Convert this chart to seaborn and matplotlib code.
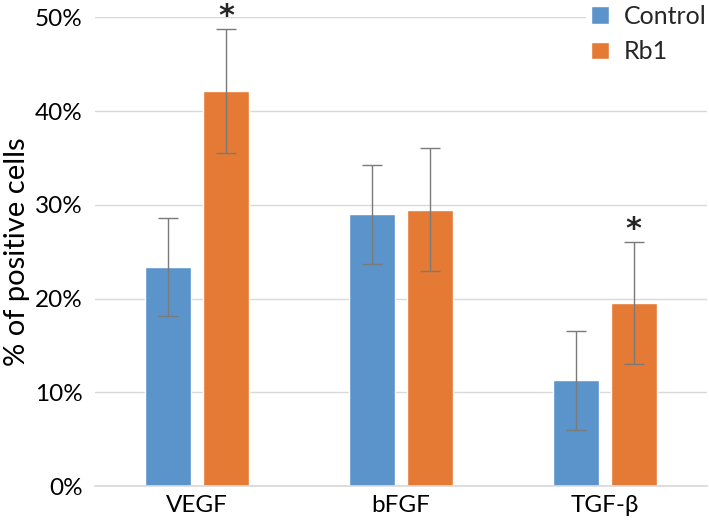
"""Percentage of positive cells per growth factor, Control vs Rb1."""

import matplotlib.pyplot as plt
import pandas as pd
import seaborn as sns
from matplotlib.ticker import PercentFormatter

factors = ['VEGF', 'bFGF', 'TGF-β']
groups = ['Control', 'Rb1']
control_mean = [23.4, 29.0, 11.3]
control_err = [5.25, 5.25, 5.25]
rb1_mean = [42.1, 29.5, 19.5]
rb1_err = [6.6, 6.6, 6.5]
significant = [True, False, True]  # star over the Rb1 bar

colors = ['#5b94ca', '#e57a34']
FONT = ['Lato', 'DejaVu Sans']


def build_frame() -> pd.DataFrame:
    rows = []
    for g, means, errs in zip(groups, [control_mean, rb1_mean], [control_err, rb1_err]):
        for f, m, e in zip(factors, means, errs):
            rows.append({'factor': f, 'group': g, 'value': m, 'err': e})
    return pd.DataFrame(rows)


def main() -> None:
    sns.set_theme(style='white')
    plt.rcParams['font.family'] = FONT

    df = build_frame()
    fig = plt.figure(figsize=(7.09, 5.24), dpi=100)
    ax = fig.add_axes([0.134, 0.072, 0.863, 0.895])

    sns.barplot(data=df, x='factor', y='value', hue='group', order=factors,
                hue_order=groups, palette=colors, width=0.568, gap=0.208,
                errorbar=None, saturation=1, ax=ax, zorder=2)

    # error bars, centred on the bars seaborn drew
    bars = [p for p in ax.patches if p.get_height() > 0][:len(df)]
    for bar, (_, row) in zip(bars, df.iterrows()):
        cx = bar.get_x() + bar.get_width() / 2
        ax.errorbar(cx, row['value'], yerr=row['err'], fmt='none',
                    ecolor='#7a7a7a', elinewidth=1.0, capsize=7, capthick=1.0,
                    zorder=3)
        if row['group'] == 'Rb1' and significant[factors.index(row['factor'])]:
            ax.annotate('*', (cx, row['value'] + row['err']), xytext=(0, 3),
                        textcoords='offset points', ha='center', va='baseline',
                        fontsize=22, fontweight='bold', family='DejaVu Sans',
                        annotation_clip=False)

    ax.set_ylim(0, 50)
    ax.set_xlim(-0.5, 2.5)
    ax.yaxis.set_major_formatter(PercentFormatter(decimals=0))
    ax.set_yticks(range(0, 51, 10))
    ax.yaxis.grid(True, color='#d9d9d9', linewidth=1)
    ax.set_axisbelow(True)
    for side in ['top', 'right', 'left']:
        ax.spines[side].set_visible(False)
    ax.spines['bottom'].set_color('#d9d9d9')
    ax.tick_params(axis='both', length=0, labelsize=17.5, colors='black', pad=9)
    ax.tick_params(axis='x', pad=6)
    ax.set_xlabel('')
    ax.set_ylabel('% of positive cells', fontsize=21, color='black')
    ax.yaxis.set_label_coords(-0.106, 0.5)

    ax.legend(loc='upper right', bbox_to_anchor=(1.028, 1.064), frameon=True,
              facecolor='white', edgecolor='white', framealpha=1,
              fontsize=18, handlelength=0.72, handleheight=0.72,
              handletextpad=0.6, labelspacing=0.5, borderpad=0.2)

    fig.savefig('out.png', dpi=100)


if __name__ == '__main__':
    main()
